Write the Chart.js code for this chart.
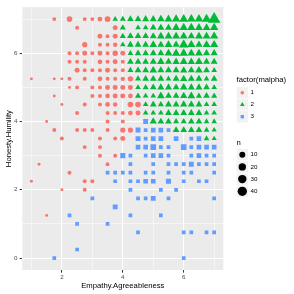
<!DOCTYPE html>
<html>
<head>
<meta charset="utf-8">
<script src="https://cdn.jsdelivr.net/npm/chart.js@4.4.1/dist/chart.umd.min.js"></script>
<style>
html,body{margin:0;padding:0;background:#ffffff;overflow:hidden;}
#box{position:relative;width:294px;height:294px;}
canvas{display:block;}
</style>
</head>
<body>
<div id="box"><canvas id="chart" width="294" height="294"></canvas></div>
<script>
// ---------------- data ----------------
const xTitle = "Empathy.Agreeableness";
const yTitle = "Honesty.Humility";
const xMajorTicks = [2, 4, 6];
const xMinorTicks = [1, 3, 5, 7];
const yMajorTicks = [0, 2, 4, 6];
const yMinorTicks = [1, 3, 5, 7];
const groupTitle = "factor(malpha)";
const groupLabels = ["1", "2", "3"];
const sizeTitle = "n";
const sizeBreaks = [10, 20, 30, 40];
const sizeLimits = [1, 45];

// group 1 (red circles)
const g1X = [
  1.75,2.25,2.75,3,3.25,3.5,
  2.5,3.75,
  3.25,3.5,3.75,
  2.75,3.25,3.5,3.75,
  2.25,2.5,2.75,3,3.25,3.5,3.75,4,
  2.25,2.5,2.75,3.25,3.5,3.75,4,
  2.5,2.75,3,3.25,3.5,3.75,4,
  1,1.75,2,2.25,2.75,3.25,3.5,3.75,4,4.25,
  2.25,2.5,3,3.25,3.5,3.75,4,4.25,
  1.75,3,3.25,3.5,3.75,4,4.25,
  2,2.75,3.25,3.5,3.75,4.25,4.5,
  2.5,3.5,3.75,4,4.25,4.5,
  1.5,3.5,4,
  1.75,2.5,2.75,3,3.5,4,4.25,
  2,3.25,3.75,4,
  2.75,3.25,
  3.25,3.75,
  1.25,3.5,
  2.25,
  1,2.75,3,
  2,2.75,
  1.5
];
const g1Y = [
  7,7,7,7,7,7,
  6.75,6.75,
  6.5,6.5,6.5,
  6.25,6.25,6.25,6.25,
  6,6,6,6,6,6,6,6,
  5.75,5.75,5.75,5.75,5.75,5.75,5.75,
  5.5,5.5,5.5,5.5,5.5,5.5,5.5,
  5.25,5.25,5.25,5.25,5.25,5.25,5.25,5.25,5.25,5.25,
  5,5,5,5,5,5,5,5,
  4.75,4.75,4.75,4.75,4.75,4.75,4.75,
  4.5,4.5,4.5,4.5,4.5,4.5,4.5,
  4.25,4.25,4.25,4.25,4.25,4.25,
  4,4,4,
  3.75,3.75,3.75,3.75,3.75,3.75,3.75,
  3.5,3.5,3.5,3.5,
  3.25,3.25,
  3,3,
  2.75,2.75,
  2.5,
  2.25,2.25,2.25,
  2,2,
  1.25
];
const g1N = [
  2,8,2,2,5,9,
  2,5,
  5,2,5,
  6,2,2,3,
  2,2,5,2,5,2,7,5,
  2,2,2,4,2,5,2,
  5,2,2,2,5,2,2,
  1,1,1,2,2,4,2,2,3,7,
  1,2,2,2,5,5,5,5,
  1,2,2,4,5,5,4,
  1,2,2,4,3,8,8,
  2,2,2,2,4,5,
  1,2,2,
  2,2,2,2,2,6,6,
  2,2,2,5,
  2,2,
  2,2,
  1,2,
  2,
  1,2,2,
  1,2,
  1
];

// group 2 (green triangles)
const g2X = [
  3.75,4,4.25,4.5,4.75,5,5.25,5.5,5.75,6,6.25,6.5,6.75,7,
  4,4.5,4.75,5,5.25,5.5,5.75,6,6.25,6.5,6.75,7,
  4,4.25,4.5,4.75,5,5.25,5.5,5.75,6,6.25,6.5,6.75,7,
  4,4.25,4.5,4.75,5,5.25,5.5,5.75,6,6.25,6.5,6.75,7,
  4.25,4.5,4.75,5,5.25,5.5,5.75,6,6.25,6.5,6.75,7,
  4.25,4.5,4.75,5,5.25,5.5,5.75,6,6.25,6.5,6.75,7,
  4.25,4.5,4.75,5,5.25,5.5,5.75,6,6.25,6.5,6.75,7,
  4.5,4.75,5,5.25,5.5,5.75,6,6.25,6.5,6.75,7,
  4.5,4.75,5,5.25,5.5,5.75,6,6.25,6.5,6.75,7,
  4.5,4.75,5,5.25,5.5,5.75,6,6.25,6.5,6.75,7,
  4.75,5,5.25,5.5,5.75,6,6.25,6.5,6.75,7,
  4.75,5,5.25,5.5,5.75,6,6.25,6.5,6.75,7,
  5,5.25,5.5,5.75,6,6.25,6.5,6.75,7,
  5.75,6,6.25,6.5,6.75,7,
  6.75,7
];
const g2Y = [
  7,7,7,7,7,7,7,7,7,7,7,7,7,7,
  6.75,6.75,6.75,6.75,6.75,6.75,6.75,6.75,6.75,6.75,6.75,6.75,
  6.5,6.5,6.5,6.5,6.5,6.5,6.5,6.5,6.5,6.5,6.5,6.5,6.5,
  6.25,6.25,6.25,6.25,6.25,6.25,6.25,6.25,6.25,6.25,6.25,6.25,6.25,
  6,6,6,6,6,6,6,6,6,6,6,6,
  5.75,5.75,5.75,5.75,5.75,5.75,5.75,5.75,5.75,5.75,5.75,5.75,
  5.5,5.5,5.5,5.5,5.5,5.5,5.5,5.5,5.5,5.5,5.5,5.5,
  5.25,5.25,5.25,5.25,5.25,5.25,5.25,5.25,5.25,5.25,5.25,
  5,5,5,5,5,5,5,5,5,5,5,
  4.75,4.75,4.75,4.75,4.75,4.75,4.75,4.75,4.75,4.75,4.75,
  4.5,4.5,4.5,4.5,4.5,4.5,4.5,4.5,4.5,4.5,
  4.25,4.25,4.25,4.25,4.25,4.25,4.25,4.25,4.25,4.25,
  4,4,4,4,4,4,4,4,4,
  3.75,3.75,3.75,3.75,3.75,3.75,
  3.5,3.5
];
const g2N = [
  3,4,6,6,7,7,10,11,14,17,15,15,18,45,
  4,3,3,6,7,7,11,13,13,11,10,14,
  4,6,6,6,7,10,10,11,11,8,11,11,13,
  3,6,6,6,10,7,11,8,21,13,8,11,13,
  3,6,6,7,7,11,13,14,11,11,8,8,
  6,6,6,7,10,7,8,11,8,11,7,7,
  4,6,6,10,7,7,7,8,7,10,6,3,
  4,6,6,7,3,7,8,7,7,3,6,
  3,4,6,7,7,6,10,7,7,6,3,
  4,3,3,10,6,6,8,10,4,6,4,
  3,6,4,7,6,8,7,6,3,3,
  3,3,3,6,6,6,6,6,3,3,
  8,6,6,4,4,6,6,3,3,
  6,6,6,6,3,2,
  3,2
];

// group 3 (blue squares)
const g3X = [
  4.75,
  4.5,4.75,5,5.25,5.5,
  4.5,4.75,5,5.25,5.75,6.25,6.5,
  4.5,4.75,5,5.25,5.5,6,6.25,6.5,6.75,7,
  4,4.25,4.75,5,5.25,5.5,6.25,6.5,6.75,7,
  4.25,5,5.5,5.75,6,6.25,6.5,6.75,7,
  3.5,3.75,4,4.25,4.75,5,5.5,6,6.25,7,
  3.75,4.25,4.5,4.75,5,5.5,6,6.5,6.75,
  4.25,5.25,5.75,
  3,4.5,4.75,5,5.5,7,
  3.75,
  2.25,4.25,5.25,
  2.5,3.5,
  4.5,6,6.25,6.75,7,
  2.5,
  1.75,6
];
const g3Y = [
  4,
  3.75,3.75,3.75,3.75,3.75,
  3.5,3.5,3.5,3.5,3.5,3.5,3.5,
  3.25,3.25,3.25,3.25,3.25,3.25,3.25,3.25,3.25,3.25,
  3,3,3,3,3,3,3,3,3,3,
  2.75,2.75,2.75,2.75,2.75,2.75,2.75,2.75,2.75,
  2.5,2.5,2.5,2.5,2.5,2.5,2.5,2.5,2.5,2.5,
  2.25,2.25,2.25,2.25,2.25,2.25,2.25,2.25,2.25,
  2,2,2,
  1.75,1.75,1.75,1.75,1.75,1.75,
  1.5,
  1.25,1.25,1.25,
  1,1,
  0.75,0.75,0.75,0.75,0.75,
  0.25,
  0,0
];
const g3N = [
  6,
  6,2,5,5,2,
  6,2,5,5,5,2,5,
  5,5,10,2,2,10,2,5,5,5,
  7,2,2,5,5,2,2,5,2,2,
  2,2,2,2,2,6,2,2,2,
  2,2,2,2,2,2,2,2,2,2,
  2,2,2,5,5,7,2,2,2,
  2,2,2,
  2,2,2,6,2,2,
  6,
  2,2,2,
  2,2,
  2,2,2,2,2,
  2,
  2,2
];

const groupColors = ["#F8766D", "#00BA38", "#619CFF"];
const groupShapes = ["circle", "triangle", "rect"];

// ---------------- helpers ----------------
const FONT = '"Liberation Sans", Arial, Helvetica, sans-serif';
function ggSize(n) {
  const t = Math.max(0, Math.min(1, (n - sizeLimits[0]) / (sizeLimits[1] - sizeLimits[0])));
  return 1 + 5 * Math.sqrt(t);
}
function diamPx(size) { return 1.35 * size + 1.6; }
function radiusFor(shape, d) {
  if (shape === 'triangle') return 0.74 * d;
  if (shape === 'rect') return 0.66 * d;
  return d / 2;
}
function zip(xs, ys, ns) { return xs.map((x, i) => ({ x: x, y: ys[i], n: ns[i] })); }

function drawShape(ctx, shape, x, y, d, color) {
  ctx.fillStyle = color;
  ctx.beginPath();
  if (shape === 'circle') {
    ctx.arc(x, y, d / 2, 0, Math.PI * 2);
  } else if (shape === 'triangle') {
    const r = radiusFor('triangle', d);
    for (let k = 0; k < 3; k++) {
      const a = k * 2 * Math.PI / 3;
      const px = x + Math.sin(a) * r, py = y - Math.cos(a) * r;
      if (k === 0) ctx.moveTo(px, py); else ctx.lineTo(px, py);
    }
    ctx.closePath();
  } else {
    const s = radiusFor('rect', d) * Math.SQRT1_2;
    ctx.rect(x - s, y - s, 2 * s, 2 * s);
  }
  ctx.fill();
}

const seriesX = [g1X, g2X, g3X], seriesY = [g1Y, g2Y, g3Y], seriesN = [g1N, g2N, g3N];
const datasets = groupLabels.map((lab, g) => ({
  label: lab,
  data: zip(seriesX[g], seriesY[g], seriesN[g]),
  pointStyle: groupShapes[g],
  backgroundColor: groupColors[g],
  borderColor: groupColors[g],
  pointBorderWidth: 0,
  pointRadius: (c) => c.raw ? radiusFor(groupShapes[g], diamPx(ggSize(c.raw.n))) : 2,
  pointHoverRadius: (c) => c.raw ? radiusFor(groupShapes[g], diamPx(ggSize(c.raw.n))) : 2,
  pointHitRadius: 0,
  showLine: false
}));

const decor = {
  id: 'decor',
  beforeDraw(chart) {
    const { ctx, chartArea: a } = chart;
    ctx.save();
    ctx.fillStyle = '#FFFFFF';
    ctx.fillRect(0, 0, chart.width, chart.height);
    ctx.fillStyle = '#EBEBEB';
    ctx.fillRect(a.left, a.top, a.right - a.left, a.bottom - a.top);
    ctx.restore();
  },
  afterDraw(chart) {
    const { ctx, chartArea: a } = chart;
    ctx.save();
    ctx.fillStyle = '#000000';
    ctx.font = '7.7px ' + FONT;
    ctx.textAlign = 'center';
    ctx.textBaseline = 'alphabetic';
    ctx.fillText(xTitle, (a.left + a.right) / 2, 288.3);
    ctx.save();
    ctx.translate(8.7, (a.top + a.bottom) / 2);
    ctx.rotate(-Math.PI / 2);
    ctx.textBaseline = 'middle';
    ctx.fillText(yTitle, 0, 0);
    ctx.restore();

    const LX = 236.6, KW = 11.4, LBL = LX + 14;
    ctx.textAlign = 'left';
    ctx.textBaseline = 'middle';
    ctx.font = '7.7px ' + FONT;
    ctx.fillStyle = '#000000';
    ctx.fillText(groupTitle, LX, 80.3);
    const gCY = [92.7, 104.7, 116.7];
    groupLabels.forEach((lab, g) => {
      const cy = gCY[g];
      ctx.fillStyle = '#F2F2F2';
      ctx.fillRect(LX, cy - KW / 2, KW, KW);
      drawShape(ctx, groupShapes[g], LX + KW / 2, cy, diamPx(1.5), groupColors[g]);
      ctx.fillStyle = '#000000';
      ctx.font = '6.2px ' + FONT;
      ctx.fillText(lab, LBL, cy);
    });

    ctx.font = '7.7px ' + FONT;
    ctx.fillStyle = '#000000';
    ctx.fillText(sizeTitle, LX, 142.7);
    sizeBreaks.forEach((b, k) => {
      const cy = 154.7 + k * 12.2;
      ctx.fillStyle = '#F2F2F2';
      ctx.fillRect(LX, cy - KW / 2, KW, KW);
      drawShape(ctx, 'circle', LX + KW / 2, cy, diamPx(ggSize(b)), '#000000');
      ctx.fillStyle = '#000000';
      ctx.font = '6.2px ' + FONT;
      ctx.fillText(String(b), LBL, cy);
    });
    ctx.restore();
  }
};

const allX = xMajorTicks.concat(xMinorTicks).sort((a, b) => a - b);
const allY = yMajorTicks.concat(yMinorTicks).sort((a, b) => a - b);

new Chart(document.getElementById('chart'), {
  type: 'scatter',
  data: { datasets: datasets },
  options: {
    responsive: false,
    animation: false,
    devicePixelRatio: 1,
    events: [],
    layout: { padding: { left: 0, right: 70.7, top: 4.4, bottom: 0 } },
    plugins: { legend: { display: false }, tooltip: { enabled: false } },
    scales: {
      x: {
        type: 'linear', min: 0.7, max: 7.3,
        afterBuildTicks: (s) => { s.ticks = allX.map(v => ({ value: v })); },
        afterFit: (s) => { s.height = 24; },
        border: { display: false },
        grid: {
          color: '#FFFFFF',
          lineWidth: (c) => xMajorTicks.includes(c.tick && c.tick.value) ? 1.07 : 0.53,
          tickColor: (c) => xMajorTicks.includes(c.tick && c.tick.value) ? '#333333' : 'rgba(0,0,0,0)',
          tickWidth: 1,
          tickLength: 2.7,
          drawTicks: true
        },
        ticks: {
          autoSkip: false, maxRotation: 0, minRotation: 0, padding: 1.2,
          color: '#4D4D4D', font: { family: FONT, size: 6.2 },
          callback: (v) => xMajorTicks.includes(v) ? String(v) : ''
        }
      },
      y: {
        type: 'linear', min: -0.35, max: 7.35,
        afterBuildTicks: (s) => { s.ticks = allY.map(v => ({ value: v })); },
        afterFit: (s) => { s.width = 22.3; },
        border: { display: false },
        grid: {
          color: '#FFFFFF',
          lineWidth: (c) => yMajorTicks.includes(c.tick && c.tick.value) ? 1.07 : 0.53,
          tickColor: (c) => yMajorTicks.includes(c.tick && c.tick.value) ? '#333333' : 'rgba(0,0,0,0)',
          tickWidth: 1,
          tickLength: 2.7,
          drawTicks: true
        },
        ticks: {
          autoSkip: false, padding: 2.2,
          color: '#4D4D4D', font: { family: FONT, size: 6.2 },
          callback: (v) => yMajorTicks.includes(v) ? String(v) : ''
        }
      }
    }
  },
  plugins: [decor]
});
</script>
</body>
</html>
